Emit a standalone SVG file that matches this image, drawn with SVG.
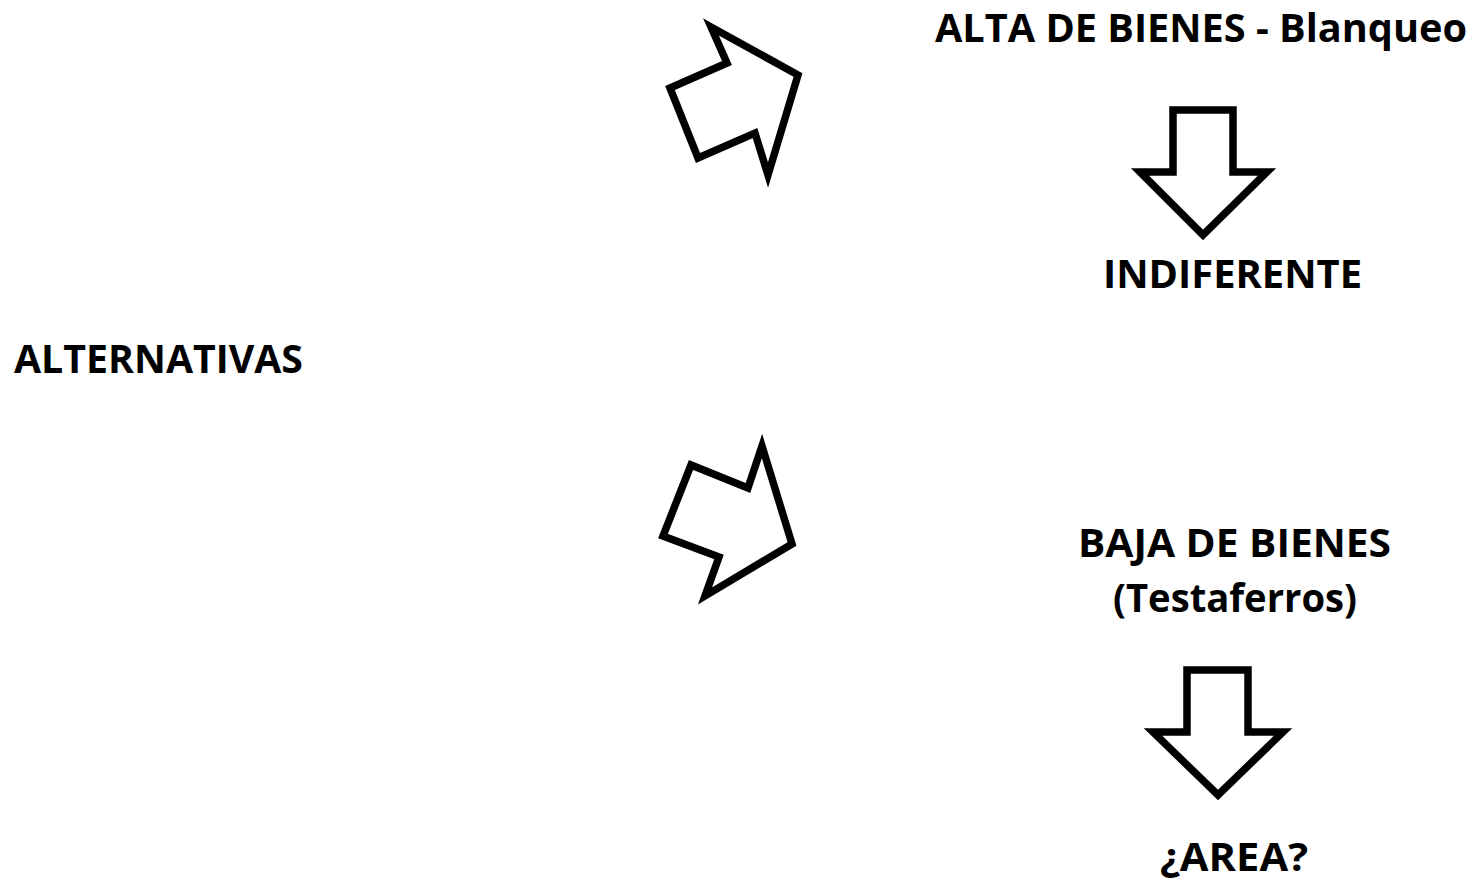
<svg xmlns="http://www.w3.org/2000/svg" width="1480" height="881" viewBox="0 0 1480 881">
<style>
.t{font-family:"Open Sans",Lato,"Liberation Sans",sans-serif;font-weight:bold;font-size:40px;fill:#000}
.a{fill:#fff;stroke:#000;stroke-width:7.5;stroke-linejoin:miter;stroke-miterlimit:10}
</style>
<rect width="1480" height="881" fill="#fff"/>
<g id="alternativas"><text class="t" x="14" y="373" textLength="289" lengthAdjust="spacingAndGlyphs">ALTERNATIVAS</text></g>
<g id="alta"><text class="t" x="935" y="42" textLength="532" lengthAdjust="spacingAndGlyphs">ALTA DE BIENES - Blanqueo</text></g>
<g id="indiferente"><text class="t" x="1103" y="288" textLength="259" lengthAdjust="spacingAndGlyphs">INDIFERENTE</text></g>
<g id="baja"><text class="t" x="1078" y="557" textLength="313" lengthAdjust="spacingAndGlyphs">BAJA DE BIENES</text><text class="t" x="1113" y="612" textLength="244" lengthAdjust="spacingAndGlyphs">(Testaferros)</text></g>
<g id="area"><text class="t" x="1160" y="871" textLength="148" lengthAdjust="spacingAndGlyphs">¿AREA?</text></g>
<g id="connectors">
<polygon class="a" points="711,27 798,75 768,175 755,133 698,158 670,88 727,63"/>
<polygon class="a" points="762,446 792,544 705,596 719,557 663,536 691,465 748,488"/>
<polygon class="a" points="1173,110 1233,110 1233,172 1267,172 1203,235 1140,172 1173,172"/>
<polygon class="a" points="1187,670 1248,670 1248,732 1283,732 1218,795 1153,732 1187,732"/>
</g>
</svg>
